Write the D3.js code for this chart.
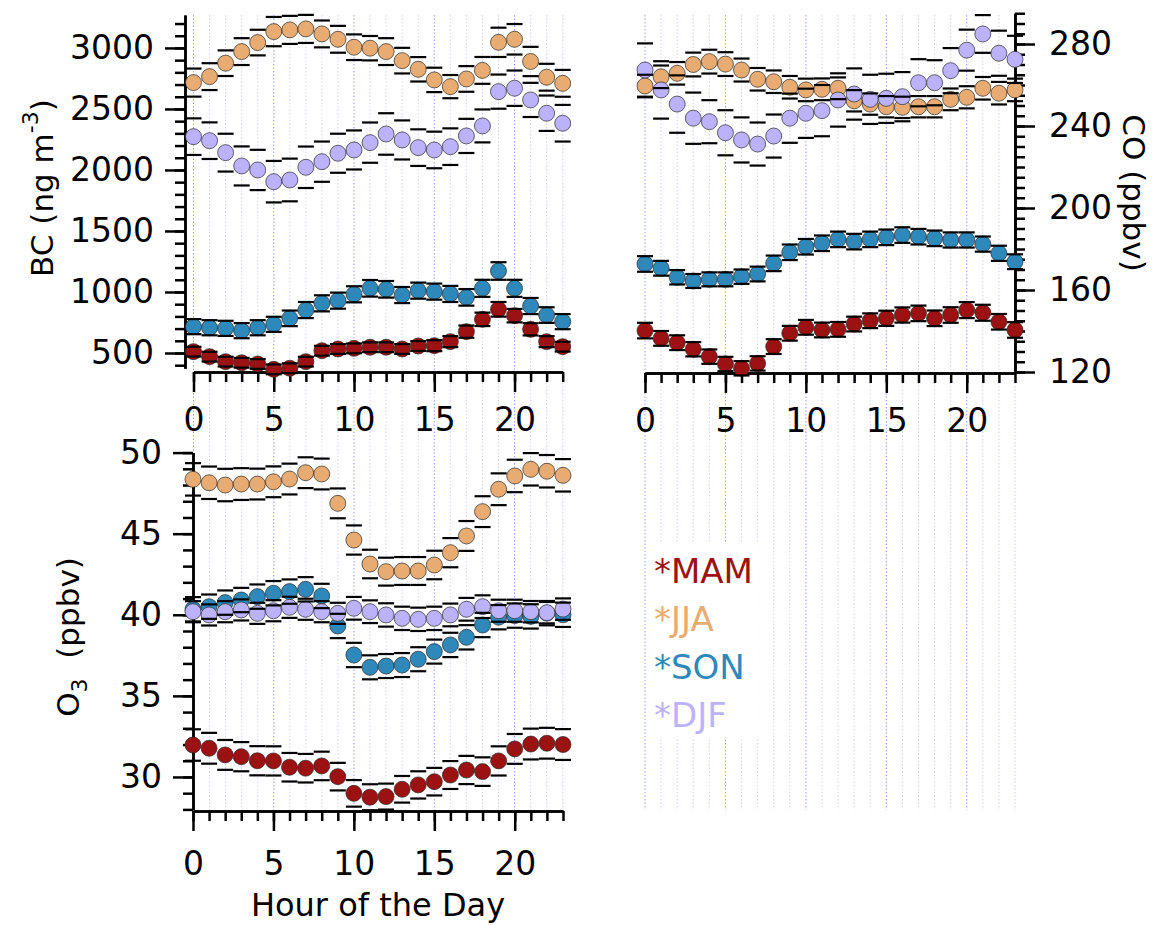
<!DOCTYPE html>
<html>
<head>
  <meta charset="utf-8">
  <script src="https://cdn.jsdelivr.net/npm/d3@7"></script>
  <style>
body { margin: 0; background: #fff; }
svg { font-family: "DejaVu Sans", sans-serif; }
.axis path, .axis line { stroke: #000; stroke-width: 2.5px; }
.axis text { font-size: 33px; fill: #000; font-family: "DejaVu Sans", sans-serif; }
.title { font-size: 31px; fill: #000; }
.legend text { font-size: 34px; }
  </style>
</head>
<body>
<svg width="1158" height="925"></svg>
<script>

const hours = [0,1,2,3,4,5,6,7,8,9,10,11,12,13,14,15,16,17,18,19,20,21,22,23];
const seasons = ["MAM", "JJA", "SON", "DJF"];
const colors = {MAM: "#9c1111", JJA: "#e8ac72", SON: "#2f88ba", DJF: "#bcb2fc"};

// BC (ng m-3)
const bcMAM = [511,470,429,420,410,366,375,429,519,533,538,547,547,533,557,560,593,675,776,858,806,694,593,552];
const bcJJA = [2716,2765,2875,2970,3044,3134,3148,3156,3115,3071,3006,2998,2970,2896,2825,2738,2683,2746,2816,3046,3071,2889,2760,2710];
const bcSON = [716,707,702,683,707,735,784,852,907,929,981,1030,1022,975,1011,1003,984,956,1030,1172,1030,885,811,757];
const bcDJF = [2273,2240,2142,2033,2000,1904,1918,2022,2068,2137,2164,2224,2295,2246,2183,2164,2191,2279,2361,2642,2670,2574,2465,2383];
const bcMAMErr = [40,40,40,40,40,40,40,40,40,40,40,40,40,40,40,45,45,50,55,60,55,50,45,40];
const bcJJAErr = [115,110,105,110,105,120,115,115,110,110,105,100,110,105,100,100,95,105,110,120,125,120,110,110];
const bcSONErr = [62,62,62,62,62,62,64,66,66,66,66,68,68,66,66,66,66,68,70,72,70,66,64,62];
const bcDJFErr = [150,150,155,160,165,170,175,170,165,160,160,165,170,160,150,150,150,140,135,140,145,140,145,150];

// CO (ppbv)
const coMAM = [140.2,136.4,134.3,131.1,127.5,123.9,121.8,124.2,132.4,138.9,141.8,140.5,140.8,143.4,145,146.2,147.8,148.6,146.2,147.8,150.2,148.9,144.5,140.5];
const coJJA = [259.5,264,265.7,270,271.4,270.2,267.3,262.8,261.6,258.9,257.6,257.9,258.4,252.3,250.7,249.4,249.1,249.4,249.4,253,254,258.4,256,257.6];
const coSON = [172.7,170.6,166.2,164.4,165.2,165.2,166.5,167.8,173,178.4,181.1,182.8,184.7,183.6,184.7,185.7,186.8,186,185.2,184.4,184.4,182.4,177.9,173.8];
const coDJF = [267.3,257.6,250.7,243.8,242.1,236.7,233.2,231.2,235.1,243.8,246.2,247.5,252.7,255.6,253,253.5,254.3,261.1,261.1,267,277,284.9,275.5,272.5];
const coMAMErr = [3.8,3.6,3.6,3.5,3.5,3.5,3.5,3.5,3.6,3.6,3.6,3.6,3.6,3.6,3.6,3.7,3.7,3.8,3.8,3.8,3.9,3.9,3.8,3.8];
const coJJAErr = [5.5,5.5,5.5,5.8,5.8,5.8,5.6,5.5,5.5,5.5,5.5,5.3,5.3,5.2,5.2,5.2,5.2,5.2,5.2,5.3,5.4,5.5,5.5,5.5];
const coSONErr = [3.8,3.6,3.5,3.4,3.4,3.4,3.5,3.6,3.8,3.8,3.8,3.8,3.8,3.8,3.8,3.8,3.8,3.8,3.8,3.7,3.7,3.7,3.7,3.6];
const coDJFErr = [13,14,14,12.5,10.5,11,11,10.5,10.5,12,12,12.5,13,12.5,12,12,12,11.5,11,11,10,9.2,11,11.5];

// O3 (ppbv)
const o3MAM = [31.97,31.77,31.36,31.25,31.0,30.99,30.6,30.54,30.68,30.02,28.99,28.75,28.79,29.24,29.51,29.71,30.12,30.43,30.33,30.99,31.73,32.03,32.08,32.0];
const o3JJA = [48.35,48.14,48.0,48.06,48.06,48.2,48.37,48.76,48.68,46.87,44.61,43.13,42.66,42.7,42.7,43.07,43.83,44.86,46.36,47.74,48.56,48.97,48.85,48.6];
const o3SON = [40.34,40.5,40.75,40.91,41.12,41.33,41.43,41.57,41.16,39.31,37.52,36.76,36.84,36.9,37.26,37.73,38.14,38.61,39.37,39.85,39.95,39.9,40.1,40.0];
const o3DJF = [40.19,39.99,40.19,40.3,40.09,40.25,40.46,40.34,40.19,40.09,40.4,40.19,39.99,39.78,39.72,39.78,39.99,40.34,40.5,40.25,40.25,40.19,40.13,40.35];
const o3MAMErr = [0.97,0.95,0.92,0.9,0.9,0.9,0.88,0.88,0.88,0.85,0.82,0.8,0.8,0.82,0.84,0.85,0.86,0.87,0.88,0.9,0.92,0.95,0.95,0.95];
const o3JJAErr = [1.0,1.0,1.0,0.98,0.95,0.95,0.95,0.95,0.95,0.92,0.9,0.88,0.86,0.86,0.86,0.88,0.9,0.92,0.95,0.98,1.0,1.0,1.0,1.0];
const o3SONErr = [0.75,0.75,0.75,0.75,0.75,0.75,0.75,0.75,0.75,0.75,0.75,0.74,0.74,0.74,0.74,0.74,0.75,0.75,0.75,0.75,0.75,0.75,0.75,0.75];
const o3DJFErr = [0.65,0.65,0.65,0.65,0.65,0.65,0.65,0.65,0.65,0.65,0.7,0.7,0.72,0.72,0.72,0.72,0.7,0.7,0.7,0.68,0.68,0.66,0.66,0.66];

const bcMajor = [500,1000,1500,2000,2500,3000];
const bcMinor = d3.range(400, 3201, 100);
const coMajor = [120,160,200,240,280];
const coMinor = d3.range(120, 296, 5);
const o3Major = [30,35,40,45,50];
const o3Minor = d3.range(28, 51, 1);
const hourMajor = [0,5,10,15,20];

var svg = d3.select("svg");

var xLeft = d3.scaleLinear().domain([0, 23]).range([193.5, 562.7]),
    xRight = d3.scaleLinear().domain([0, 23]).range([645, 1015]),
    xBottom = d3.scaleLinear().domain([0, 23]).range([193, 563]);

var yBC = d3.scaleLinear().domain([375, 3270]).range([368.25, 15]),
    yCO = d3.scaleLinear().domain([120, 295]).range([372, 13.25]),
    yO3 = d3.scaleLinear().domain([28, 50]).range([809.4, 452.6]);

// dotted hour grid, running the full height of both columns
[xLeft, xRight].forEach(x => {
  svg.append("g")
     .selectAll("line")
     .data(hours)
     .enter().append("line")
     .attr("x1", d => x(d)).attr("x2", d => x(d))
     .attr("y1", 15).attr("y2", 810)
     .attr("stroke", d => d % 5 == 0 ? "#9c9cff" : "#cfcfff")
     .attr("stroke-width", 1)
     .attr("stroke-dasharray", "1.5,2");
});

function xAxis(x, y0, pad) {
  svg.append("g")
     .attr("class", "axis")
     .attr("transform", `translate(0,${y0})`)
     .call(d3.axisBottom(x).tickValues(hours).tickSize(10).tickSizeOuter(0).tickFormat(""));
  svg.append("g")
     .attr("class", "axis")
     .attr("transform", `translate(0,${y0})`)
     .call(d3.axisBottom(x).tickValues(hourMajor).tickSize(20).tickSizeOuter(0).tickPadding(pad));
}

function yAxis(y, x0, major, minor, pad, right) {
  var mk = right ? d3.axisRight : d3.axisLeft;
  svg.append("g")
     .attr("class", "axis")
     .attr("transform", `translate(${x0},0)`)
     .call(mk(y).tickValues(minor).tickSize(10).tickSizeOuter(0).tickFormat(""));
  svg.append("g")
     .attr("class", "axis")
     .attr("transform", `translate(${x0},0)`)
     .call(mk(y).tickValues(major).tickSize(20).tickSizeOuter(0).tickPadding(pad).tickFormat(d3.format("d")));
}

xAxis(xLeft, 372, 16);
xAxis(xRight, 373, 16);
xAxis(xBottom, 811, 21);
yAxis(yBC, 185, bcMajor, bcMinor, 11, false);
yAxis(yCO, 1015, coMajor, coMinor, 14, true);
yAxis(yO3, 193, o3Major, o3Minor, 11, false);

function drawSeries(x, y, list) {
  var g = svg.append("g");
  list.forEach(s => {
    g.append("g")
     .selectAll("circle")
     .data(hours)
     .enter().append("circle")
     .attr("cx", h => x(h))
     .attr("cy", h => y(s.v[h]))
     .attr("r", 8)
     .attr("fill", colors[s.key])
     .attr("stroke", "#2a2a2a")
     .attr("stroke-opacity", 0.7)
     .attr("stroke-width", 1);
  });
  list.forEach(s => {
    var caps = g.append("g").attr("stroke", "#000").attr("stroke-width", 2.2);
    hours.forEach(h => {
      [s.v[h] + s.e[h], s.v[h] - s.e[h]].forEach(v => {
        caps.append("line")
            .attr("x1", x(h) - 8).attr("x2", x(h) + 8)
            .attr("y1", y(v)).attr("y2", y(v));
      });
    });
  });
}

drawSeries(xLeft, yBC, [
  {key: "MAM", v: bcMAM, e: bcMAMErr},
  {key: "JJA", v: bcJJA, e: bcJJAErr},
  {key: "SON", v: bcSON, e: bcSONErr},
  {key: "DJF", v: bcDJF, e: bcDJFErr}
]);
drawSeries(xRight, yCO, [
  {key: "MAM", v: coMAM, e: coMAMErr},
  {key: "JJA", v: coJJA, e: coJJAErr},
  {key: "SON", v: coSON, e: coSONErr},
  {key: "DJF", v: coDJF, e: coDJFErr}
]);
drawSeries(xBottom, yO3, [
  {key: "MAM", v: o3MAM, e: o3MAMErr},
  {key: "JJA", v: o3JJA, e: o3JJAErr},
  {key: "SON", v: o3SON, e: o3SONErr},
  {key: "DJF", v: o3DJF, e: o3DJFErr}
]);

// axis titles
var bc = svg.append("text")
            .attr("class", "title")
            .attr("transform", "translate(53,188) rotate(-90)")
            .attr("text-anchor", "middle");
bc.append("tspan").text("BC (ng m");
bc.append("tspan").attr("dy", -15).style("font-size", "22px").text("-3");
bc.append("tspan").attr("dy", 15).text(")");

svg.append("text")
   .attr("class", "title")
   .attr("transform", "translate(1123,193) rotate(90)")
   .attr("text-anchor", "middle")
   .text("CO (ppbv)");

var o3 = svg.append("text")
            .attr("class", "title")
            .attr("transform", "translate(79,637) rotate(-90)")
            .attr("text-anchor", "middle");
o3.append("tspan").text("O");
o3.append("tspan").attr("dy", 8).style("font-size", "22px").text("3");
o3.append("tspan").attr("dy", -8).text("\u00a0 (ppbv)");

svg.append("text")
   .attr("class", "title")
   .attr("x", xBottom(11.5))
   .attr("y", 916)
   .attr("text-anchor", "middle")
   .style("font-size", "32px")
   .text("Hour of the Day");

// legend on a white patch over the grid
var legend = svg.append("g").attr("class", "legend");
legend.append("rect")
      .attr("x", 648).attr("y", 543)
      .attr("width", 110).attr("height", 194)
      .attr("fill", "#fff");
legend.selectAll("text")
      .data(seasons)
      .enter().append("text")
      .attr("x", 654)
      .attr("y", (d, i) => 583 + i * 48)
      .attr("fill", d => colors[d])
      .text(d => "*" + d);

</script>
</body>
</html>
